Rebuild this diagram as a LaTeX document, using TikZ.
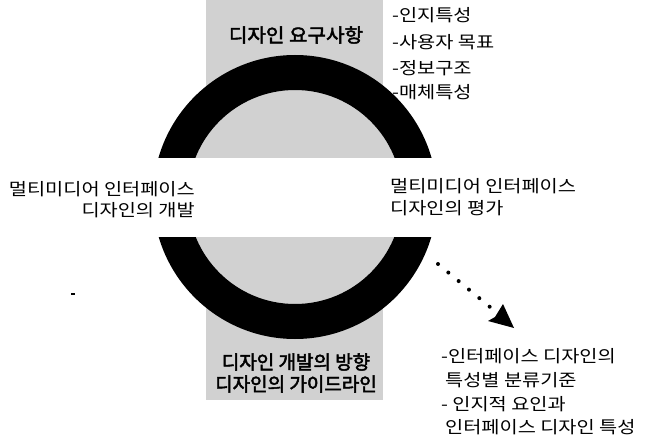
\documentclass[tikz,border=0pt]{standalone}
\usepackage{fontspec}
\usetikzlibrary{arrows.meta}
\newfontfamily\krfont[FakeStretch=1.16]{Noto Sans CJK KR}
\newfontfamily\krbold[FakeBold=2.5]{Noto Sans CJK KR}
\newfontfamily\krboldwide[FakeBold=2.5,FakeStretch=1.06]{Noto Sans CJK KR}
\definecolor{stipple}{gray}{0.82}
\tikzset{
  plain/.style={font=\krfont\fontsize{17}{21}\selectfont, inner sep=0pt},
  heading/.style={font=\krbold\fontsize{19}{22}\selectfont, inner sep=0pt},
  topheading/.style={font=\krboldwide\fontsize{19}{22}\selectfont, inner sep=0pt},
}
\begin{document}
\begin{tikzpicture}[x=1pt,y=-1pt]
\useasboundingbox (0,0) rectangle (651,441);
% stippled background
\fill[stipple] (206,0) rectangle (383,400);
\fill[stipple] (295,197) circle[radius=107];
\fill[white] (150,158) rectangle (440,237);
% ring
\begin{scope}
  \clip (0,0) rectangle (651,158) (0,237) rectangle (651,441);
  \fill[black,even odd rule] (295,197) circle[radius=142] (295,197) circle[radius=107];
\end{scope}
% headings
\node[topheading] (req) at (296,35) {디자인 요구사항};
\node[heading] (dir1) at (296,362) {디자인 개발의 방향};
\node[heading] (dir2) at (296,384) {디자인의 가이드라인};
% top right list
\node[plain,anchor=west] (r1) at (392,15) {-인지특성};
\node[plain,anchor=west] (r2) at (392,42) {-사용자 목표};
\node[plain,anchor=west] (r3) at (392,68) {-정보구조};
\node[plain,anchor=west] (r4) at (392,92) {-매체특성};
% side texts
\node[plain,anchor=east] (dv1) at (195,189) {멀티미디어 인터페이스};
\node[plain,anchor=east] (dv2) at (195,210) {디자인의 개발};
\node[plain,anchor=west] (ev1) at (390,186) {멀티미디어 인터페이스};
\node[plain,anchor=west] (ev2) at (390,208) {디자인의 평가};
% bottom right list
\node[plain,anchor=west] (b1) at (441,356) {-인터페이스 디자인의};
\node[plain,anchor=west] (b2) at (445,380) {특성별 분류기준};
\node[plain,anchor=west] (b3) at (441,404) {- 인지적 요인과};
\node[plain,anchor=west] (b4) at (445,427) {인터페이스 디자인 특성};
% dotted arrow
\coordinate (ds) at (438,264);
\coordinate (de) at (490,307);
\coordinate (tip) at (514,328);
\draw[line width=4pt, line cap=round, dash pattern=on 0pt off 13.4pt] (ds) -- (de);
\fill (tip) -- ++(-26,-7) -- ++(7,-4) -- ++(8,-13) -- cycle;
% small stray mark
\coordinate (m1) at (71,294);
\coordinate (m2) at (75,294);
\draw[line width=1.2pt] (m1) -- (m2);
\end{tikzpicture}
\end{document}
